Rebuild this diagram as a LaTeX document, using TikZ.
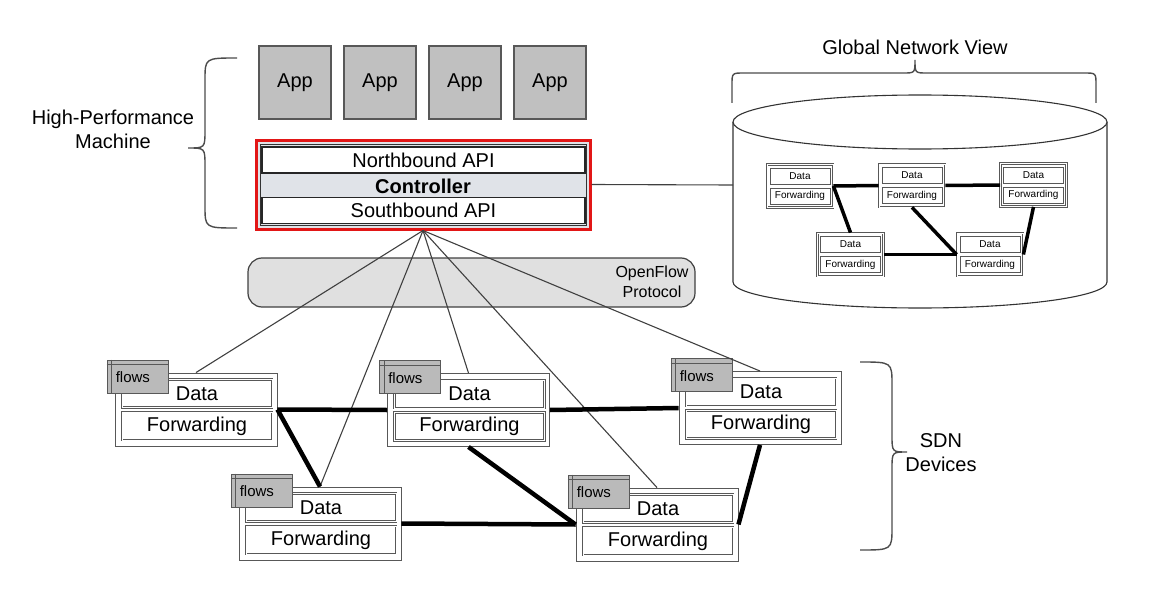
\documentclass[tikz,border=0pt]{standalone}
\usepackage{fontspec}
\setmainfont{Liberation Sans}
\usepackage{tikz}
\usetikzlibrary{shapes,arrows}
\usetikzlibrary{positioning}
\usetikzlibrary{calc}
\definecolor{appgray}{RGB}{192,192,192}
\definecolor{tabgray}{RGB}{186,186,186}
\definecolor{pipegray}{RGB}{224,224,224}
\definecolor{ctrlfill}{RGB}{224,227,232}
\definecolor{ctrlred}{RGB}{226,22,22}
\definecolor{boxline}{RGB}{88,88,88}
\newcommand\bigfont{\fontsize{20}{24}\selectfont}
\newcommand\sdndevice[2]{%
  \node[devnode] (#1) at (#2) {};
  \node[rownode] (#1d) at ([xshift=1pt,yshift=16pt]#1.center) {Data};
  \node[rownode] (#1f) at ([xshift=1pt,yshift=-16.5pt]#1.center) {Forwarding};
  \node[tabnode,anchor=north west] (#1t) at ([xshift=-8pt,yshift=13pt]#1.north west) {};
  \draw[tabline] ([xshift=5pt]#1t.north west) -- ([xshift=5pt]#1t.south west);
  \draw[tabline] ([yshift=-5pt]#1t.north west) -- ([yshift=-5pt]#1t.north east);
  \node[flowsnode,anchor=west] (#1l) at ([xshift=9pt,yshift=-1pt]#1t.west) {flows};
}
\newcommand\minidevice[2]{%
  \node[mininode] (#1) at (#2) {};
  \node[minirow] (#1d) at ([yshift=10pt]#1.center) {Data};
  \node[minirow] (#1f) at ([yshift=-10pt]#1.center) {Forwarding};
}

\begin{document}
\begin{tikzpicture}[x=1pt, y=-1pt,
appnode/.style={draw=boxline, line width=1.4pt, fill=appgray,
  minimum width=72, minimum height=73, font=\bigfont},
apinode/.style={draw=black!85, line width=1.3pt, fill=white,
  minimum width=323, minimum height=26, inner sep=0, font=\bigfont},
devnode/.style={draw=boxline, line width=0.9pt, fill=white,
  minimum width=162, minimum height=73},
rownode/.style={draw=boxline, line width=0.9pt, double=white, double distance=0.8pt,
  fill=white, minimum width=150, minimum height=28, inner sep=0, font=\bigfont},
tabnode/.style={draw=boxline, line width=1pt, fill=tabgray,
  minimum width=61, minimum height=33},
tabline/.style={draw=boxline, line width=0.8pt},
flowsnode/.style={inner sep=0, font=\fontsize{15}{18}\selectfont},
mininode/.style={draw=boxline, line width=0.8pt, double=white, double distance=0.7pt,
  fill=white, minimum width=66, minimum height=43},
minirow/.style={draw=boxline, line width=0.7pt, fill=white,
  minimum width=60, minimum height=16, inner sep=0, font=\fontsize{10}{12}\selectfont},
link/.style={line width=4.5pt},
minilink/.style={line width=3.5pt},
wire/.style={draw=black!75, line width=1.1pt},
brace/.style={draw=black!70, line width=1.4pt},
label/.style={align=center, font=\bigfont}
]
\useasboundingbox (0,0) rectangle (1171,610);

% apps
\foreach \i/\x in {1/295,2/380,3/465,4/550}
  \node[appnode] (app\i) at (\x,82.5) {App};

% controller
\node[draw=ctrlred, line width=3pt, fill=ctrlfill, minimum width=334, minimum height=89] (ctrl) at (423,184.5) {};
\node[draw=black!80, line width=0.6pt, minimum width=326, minimum height=81] (ctrlin) at (ctrl.center) {};
\node[apinode] (nb) at (423.5,160) {Northbound API};
\node[apinode] (sb) at (423.5,210.5) {Southbound API};
\node[font=\bigfont\bfseries, inner sep=0] (ctrltext) at (423,186) {Controller};

% left brace
\draw[brace] (237,58) .. controls (205,58) .. (205,80) -- (205,130)
  .. controls (205,148) .. (188,148) .. controls (205,148) .. (205,166)
  -- (205,206) .. controls (205,228) .. (237,228);
\node[label] (hpm) at (113,129) {High-Performance\\Machine};

% openflow
\node[draw=black!75, line width=1.2pt, fill=pipegray, rounded corners=14pt,
  minimum width=447, minimum height=49] (pipe) at (471.5,282.5) {};
\node[align=center, font=\fontsize{16}{20}\selectfont] (oftext) at (652,282) {OpenFlow\\Protocol};

% global network view
\draw[line width=1.1pt, draw=black!80, fill=white] (733,122) -- (733,282)
  arc[start angle=180, end angle=0, x radius=187, y radius=26] -- (1107,122);
\draw[line width=1.1pt, draw=black!80, fill=white] (920,122) ellipse[x radius=187, y radius=27];
\coordinate (gnvleft) at (733,185);
\draw[wire] (ctrl.east) -- (gnvleft);
\draw[brace] (732,103) -- (732,85) .. controls (732,73) .. (744,73) -- (903,73)
  .. controls (915,73) .. (915,60) .. controls (915,73) .. (927,73)
  -- (1084,73) .. controls (1096,73) .. (1096,85) -- (1096,103);
\node[label] (gnv) at (915,47) {Global Network View};

\minidevice{ma}{800,186}
\minidevice{mb}{912,185.5}
\minidevice{mc}{1033.5,185}
\minidevice{md}{850.5,254.5}
\minidevice{me}{990,254.5}
\draw[minilink] (ma.east) -- (mb.west);
\draw[minilink] (mb.east) -- (mc.west);
\draw[minilink] (ma.east) -- (md.north);
\draw[minilink] (mb.south) -- (me.west);
\draw[minilink] (md.east) -- (me.west);
\draw[minilink] (mc.south) -- (me.east);

% sdn devices
\sdndevice{one}{196,409.5}
\sdndevice{two}{468.5,410}
\sdndevice{three}{760,408}
\sdndevice{four}{320,523.5}
\sdndevice{five}{657,524.5}

\foreach \d in {one,two,three,four,five}
  \draw[wire] (ctrl.south) -- (\d.north);

\draw[link] (one.east) -- (two.west);
\draw[link] (two.east) -- (three.west);
\draw[link] (one.east) -- (four.north);
\draw[link] (two.south) -- (five.west);
\draw[link] (four.east) -- (five.west);
\draw[link] (three.south) -- (five.east);

% right brace
\draw[brace] (860,362) .. controls (892,362) .. (892,385) -- (892,435)
  .. controls (892,452) .. (907,452) .. controls (892,452) .. (892,469)
  -- (892,527) .. controls (892,550) .. (860,550);
\node[label] (sdn) at (941,453) {SDN\\Devices};

\end{tikzpicture}
\end{document}
